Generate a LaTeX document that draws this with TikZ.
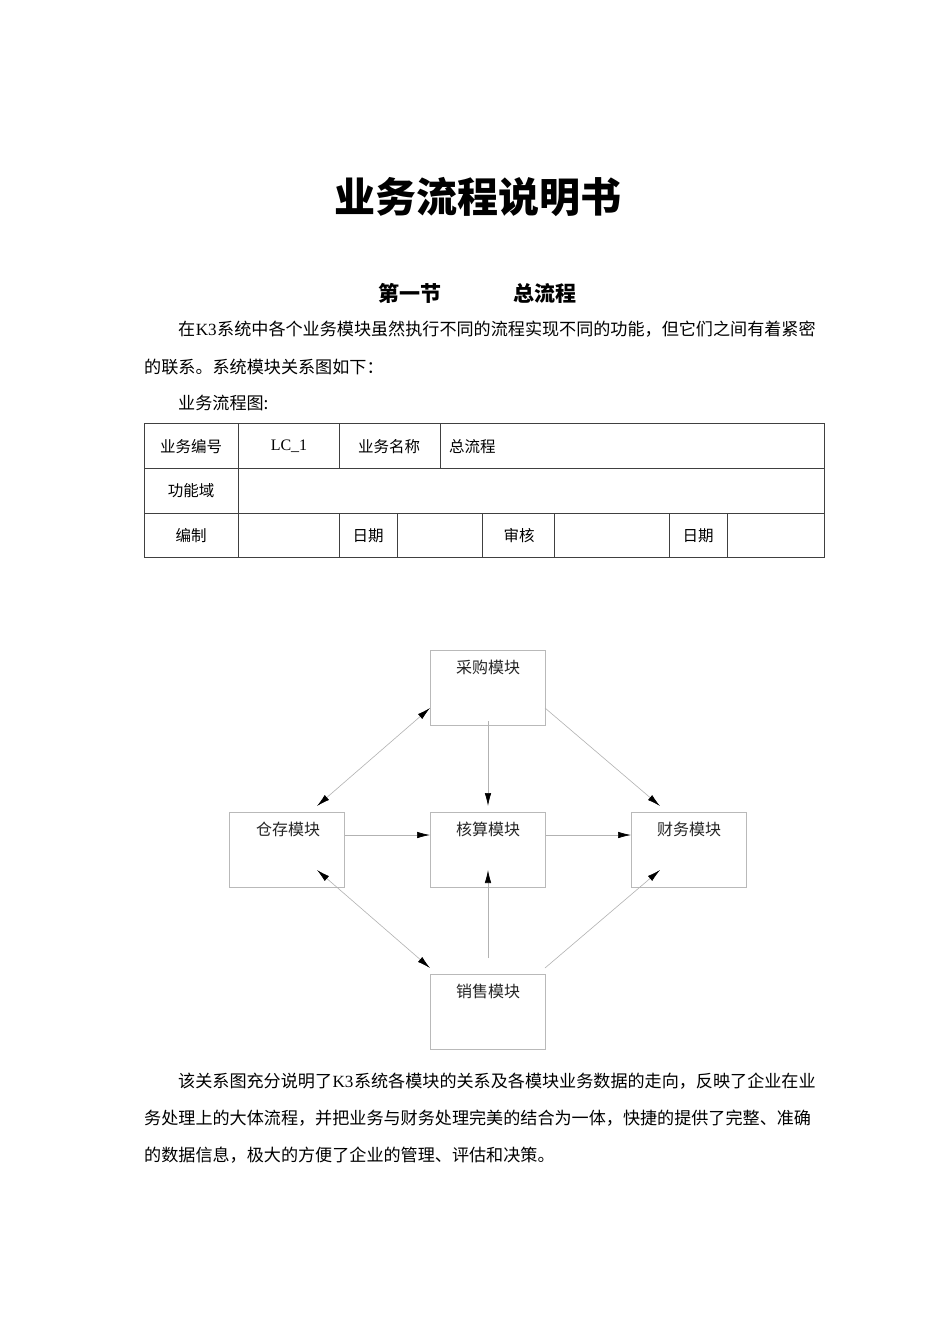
\documentclass[tikz,border=0pt]{standalone}
\usepackage{fontspec}
\setmainfont{Liberation Serif}
\newfontfamily\cjk{Noto Sans CJK SC}
\usetikzlibrary{arrows.meta}
\newcommand{\fs}[1]{\fontsize{#1}{#1}\selectfont}
\newcommand{\kthree}{\kern0.5pt{\rmfamily K3}\kern0.5pt}
\tikzset{
  para/.style={inner sep=0pt, anchor=west, font=\cjk\fs{17.1}},
  cell/.style={inner sep=0pt, font=\cjk\fs{15.5}},
  modbox/.style={draw=gray!55, line width=0.7pt, minimum width=115pt, minimum height=75pt, inner sep=0pt},
  modtxt/.style={inner sep=0pt, font=\cjk\fs{16}, text=black!85},
  conn/.style={draw=gray!60, line width=0.6pt, -{Latex[length=13pt,width=6.5pt,black]}},
  conn2/.style={draw=gray!60, line width=0.6pt, {Latex[length=13pt,width=6.5pt,black]}-{Latex[length=13pt,width=6.5pt,black]}},
  tbl/.style={draw=black!75, line width=0.7pt}
}
\begin{document}
\begin{tikzpicture}[x=1pt,y=-1pt]
\useasboundingbox[fill=white] (0,0) rectangle (950,1331);

% title
\node[inner sep=0pt, font=\cjk\bfseries\fs{41}] (title) at (478,197) {业务流程说明书};
\node[inner sep=0pt, font=\cjk\bfseries\fs{21}] (sec1) at (410,293) {第一节};
\node[inner sep=0pt, font=\cjk\bfseries\fs{21}] (sec2) at (545,293) {总流程};

% paragraph 1
\node[para] (p1) at (178,329) {在\kthree 系统中各个业务模块虽然执行不同的流程实现不同的功能，但它们之间有着紧密};
\node[para] (p2) at (144,367) {的联系。系统模块关系图如下：};
\node[para] (p3) at (178,403) {业务流程图:};

% table
\draw[tbl] (144,423) rectangle (824,557);
\draw[tbl] (144,468) -- (824,468);
\draw[tbl] (144,513) -- (824,513);
\draw[tbl] (238,423) -- (238,557);
\draw[tbl] (339,423) -- (339,468);
\draw[tbl] (440,423) -- (440,468);
\draw[tbl] (339,513) -- (339,557);
\draw[tbl] (397,513) -- (397,557);
\draw[tbl] (482,513) -- (482,557);
\draw[tbl] (554,513) -- (554,557);
\draw[tbl] (669,513) -- (669,557);
\draw[tbl] (727,513) -- (727,557);

\node[cell] (c11) at (191,447) {业务编号};
\node[cell, font=\rmfamily\fs{16}] (c12) at (289,446) {LC\_1};
\node[cell] (c13) at (389,447) {业务名称};
\node[cell, anchor=west] (c14) at (449,447) {总流程};
\node[cell] (c21) at (191,491) {功能域};
\node[cell] (c31) at (191,536) {编制};
\node[cell] (c32) at (368,536) {日期};
\node[cell] (c33) at (519,536) {审核};
\node[cell] (c34) at (698,536) {日期};

% diagram boxes
\node[modbox, anchor=north west] (cg) at (430,650) {};
\node[modbox, anchor=north west] (cc) at (229,812) {};
\node[modbox, anchor=north west] (hs) at (430,812) {};
\node[modbox, anchor=north west] (cw) at (631,812) {};
\node[modbox, anchor=north west] (xs) at (430,974) {};

\node[modtxt] (cgt) at (488,667) {采购模块};
\node[modtxt] (cct) at (288,829) {仓存模块};
\node[modtxt] (hst) at (488,829) {核算模块};
\node[modtxt] (cwt) at (689,829) {财务模块};
\node[modtxt] (xst) at (488,991) {销售模块};

% connection points
\coordinate (cgL) at (430,708);
\coordinate (cgR) at (545,708);
\coordinate (cgB) at (488,721);
\coordinate (ccT) at (317,806);
\coordinate (ccB) at (317,870);
\coordinate (cwT) at (660,806);
\coordinate (cwB) at (660,870);
\coordinate (hsT) at (488,806);
\coordinate (hsB) at (488,870);
\coordinate (xsL) at (430,968);
\coordinate (xsR) at (545,968);
\coordinate (xsT) at (488,958);

\draw[conn2] (cgL) -- (ccT);
\draw[conn] (cgR) -- (cwT);
\draw[conn] (cgB) -- (hsT);
\draw[conn] (cc.east |- 0,835) -- (hs.west |- 0,835);
\draw[conn] (hs.east |- 0,835) -- (cw.west |- 0,835);
\draw[conn2] (ccB) -- (xsL);
\draw[conn] (xsR) -- (cwB);
\draw[conn] (xsT) -- (hsB);

% paragraph 2
\node[para] (q1) at (178,1081) {该关系图充分说明了\kthree 系统各模块的关系及各模块业务数据的走向，反映了企业在业};
\node[para] (q2) at (144,1118) {务处理上的大体流程，并把业务与财务处理完美的结合为一体，快捷的提供了完整、准确};
\node[para] (q3) at (144,1155) {的数据信息，极大的方便了企业的管理、评估和决策。};
\end{tikzpicture}
\end{document}
